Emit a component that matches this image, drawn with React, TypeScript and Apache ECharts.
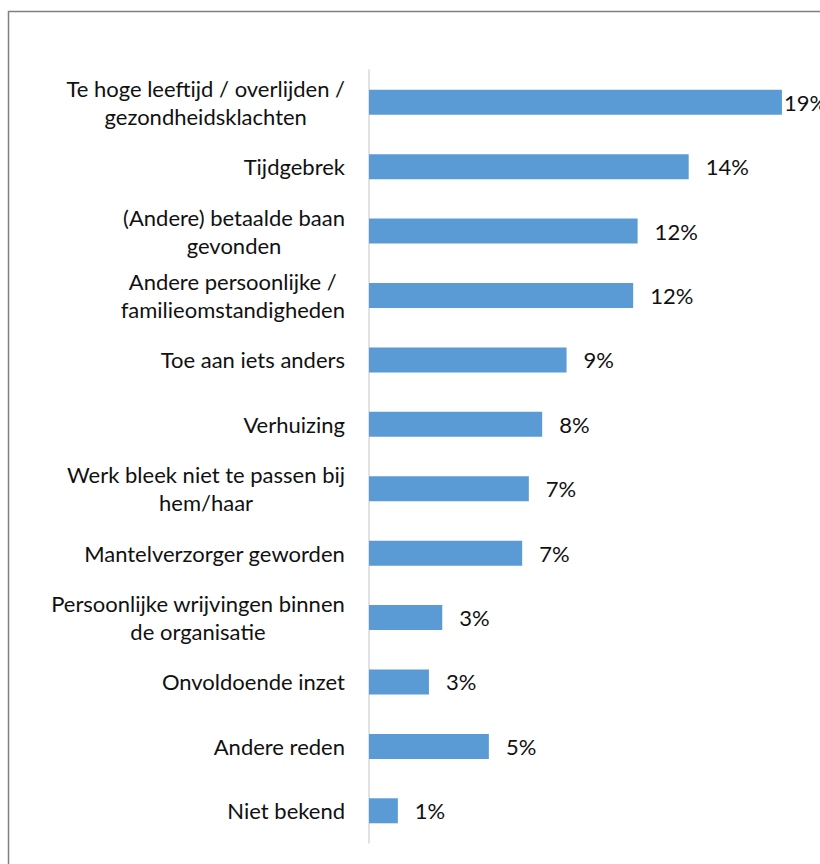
import React, { useEffect, useRef } from "react";
import * as echarts from "echarts";

const categories: string[] = [
  "Te hoge leeftijd / overlijden /\ngezondheidsklachten",
  "Tijdgebrek",
  "(Andere) betaalde baan\ngevonden",
  "Andere persoonlijke /\nfamilieomstandigheden",
  "Toe aan iets anders",
  "Verhuizing",
  "Werk bleek niet te passen bij\nhem/haar",
  "Mantelverzorger geworden",
  "Persoonlijke wrijvingen binnen\nde organisatie",
  "Onvoldoende inzet",
  "Andere reden",
  "Niet bekend",
];

const values: number[] = [18.6, 14.4, 12.1, 11.9, 8.9, 7.8, 7.2, 6.9, 3.3, 2.7, 5.4, 1.3];

const FONT = "Lato";

export default function App() {
  const ref = useRef<HTMLDivElement>(null);
  useEffect(() => {
    document.body.style.margin = "0";
    const chart = echarts.init(ref.current!, null, { renderer: "svg" });
    chart.setOption({
      animation: false,
      backgroundColor: "#ffffff",
      graphic: [
        {
          type: "rect",
          shape: { x: 8.5, y: 11.5, width: 900, height: 900 },
          style: { fill: "none", stroke: "#808080", lineWidth: 1.5 },
          silent: true,
        },
      ],
      grid: { left: 369, right: 7, top: 70, bottom: 21, containLabel: false },
      xAxis: {
        type: "value",
        min: 0,
        max: 20,
        show: false,
      },
      yAxis: {
        type: "category",
        inverse: true,
        data: categories,
        axisLine: { show: true, lineStyle: { color: "#d9d9d9", width: 1.5 } },
        axisTick: { show: false },
        axisLabel: {
          margin: 24,
          align: "right",
          color: "#111111",
          fontFamily: FONT,
          fontSize: 22,
          lineHeight: 28,
          formatter: (v: string) =>
            v
              .split("\n")
              .map((l) => `{c|${l}}`)
              .join("\n"),
          rich: {
            c: {
              align: "center",
              fontFamily: FONT,
              fontSize: 22,
              lineHeight: 28,
              color: "#111111",
            },
          },
        },
      },
      series: [
        {
          type: "bar",
          barWidth: 25,
          itemStyle: { color: "#5B9BD5" },
          label: {
            show: true,
            position: "right",
            distance: 17,
            color: "#111111",
            fontFamily: FONT,
            fontSize: 22,
            formatter: (p: any) => `${Math.round(p.value)}%`,
          },
          data: values.map((v, i) =>
            i === 0 ? { value: v, label: { distance: 2 } } : v
          ),
        },
      ],
    });
    return () => chart.dispose();
  }, []);
  return <div ref={ref} style={{ width: 820, height: 864 }} />;
}
